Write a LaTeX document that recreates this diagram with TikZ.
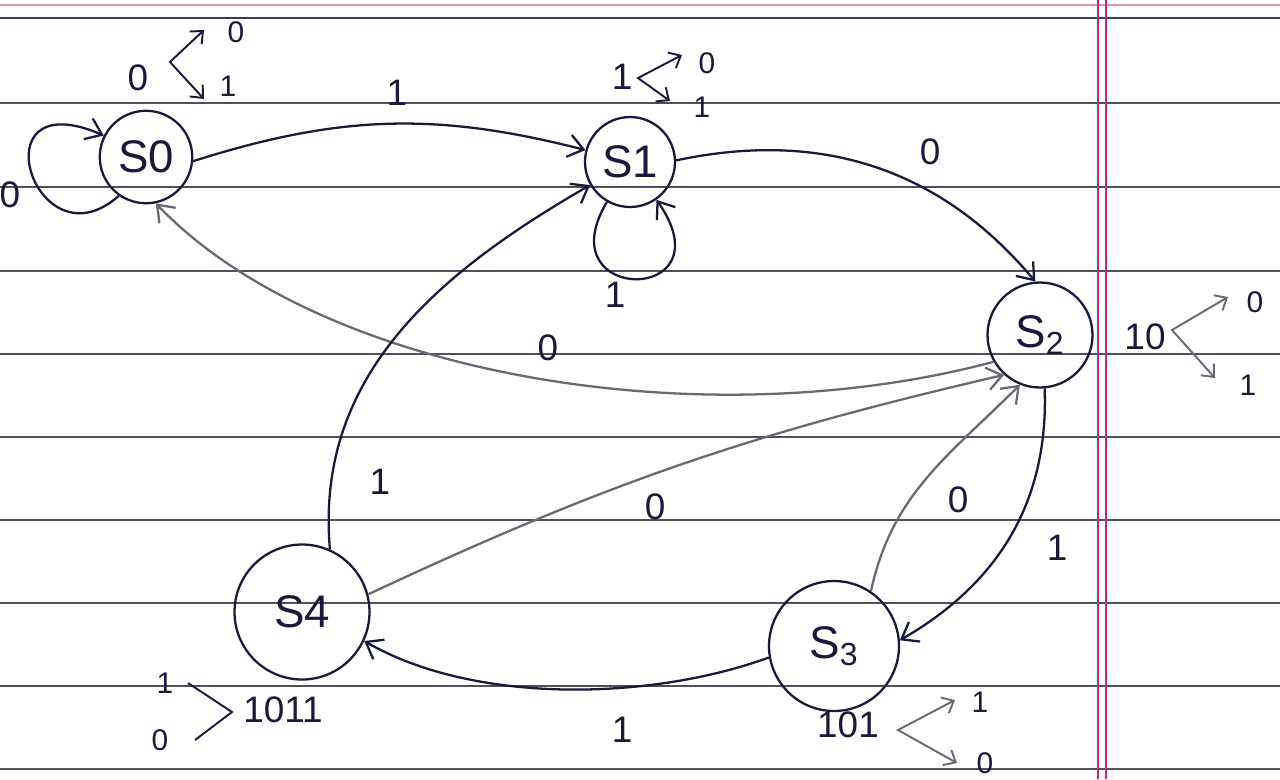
\documentclass[tikz,border=0pt]{standalone}
\usepackage{fontspec}
\setmainfont{Liberation Sans}
\usetikzlibrary{arrows.meta}
\definecolor{ink}{RGB}{25,25,60}
\definecolor{pencil}{RGB}{105,105,115}
\definecolor{rule}{RGB}{80,80,92}
\definecolor{margin}{RGB}{185,45,125}

\begin{document}
\begin{tikzpicture}[x=0.02cm, y=0.02cm, line width=1.3pt,
	state/.style={draw=ink, circle, inner sep=0pt, text=ink, font=\fontsize{26}{30}\selectfont},
	lbl/.style={text=ink, inner sep=0pt, font=\fontsize{21}{25}\selectfont},
	note/.style={text=ink, inner sep=0pt, font=\fontsize{17}{20}\selectfont},
	trans/.style={draw=ink, -{Straight Barb[length=3mm, width=4.5mm]}},
	fork/.style={draw=ink, line width=1.1pt, {Straight Barb[length=2mm, width=3.5mm]}-{Straight Barb[length=2mm, width=3.5mm]}}]
	
	\useasboundingbox (0,0) rectangle (1280,-779);
	\fill[white] (0,0) rectangle (1280,-779);
	
	% Ruled paper
	\draw[margin!50, line width=0.6pt] (0,-5) -- (1280,-5);
	\draw[ink!85, line width=1.5pt] (0,-18) -- (1280,-18);
	\foreach \y in {103,187,271,354,437,520,603,686,769} {
		\draw[rule, line width=1pt] (0,-\y) -- (1280,-\y);
	}
	\draw[margin, line width=0.9pt] (1098,0) -- (1098,-779);
	\draw[margin, line width=0.9pt] (1106,0) -- (1106,-779);
	
	% States
	\node[state, minimum size=1.85cm] (s0) at (146,-157) {S0};
	\node[state, minimum size=1.8cm] (s1) at (630,-162) {S1};
	\node[state, minimum size=2.1cm] (s2) at (1040,-335) {S\textsubscript{2}};
	\node[state, minimum size=2.6cm] (s3) at (834,-646) {S\textsubscript{3}};
	\node[state, minimum size=2.7cm] (s4) at (302,-612) {S4};
	
	% Transitions
	\draw[trans] (s0.235) .. controls (35,-270) and (-25,-80) .. (s0.153);
	\draw[trans] (s0.-5) to[bend left=16] (s1.165);
	\draw[trans] (s1.240) .. controls (545,-305) and (730,-305) .. (s1.305);
	\draw[trans] (s1.2) to[out=12, in=130] (s2.95);
	\draw[trans, draw=pencil] (s2.210) .. controls (700,-440) and (320,-375) .. (s0.282);
	\draw[trans] (s2.-85) to[out=-88, in=30] (s3.5);
	\draw[trans, draw=pencil] (s3.56) to[out=78, in=225] (s2.248);
	\draw[trans] (s3.190) to[out=200, in=-30, looseness=0.8] (s4.-25);
	\draw[trans] (s4.66) to[out=95, in=210] (s1.210);
	\draw[trans, draw=pencil] (s4.15) to[bend left=6] (s2.228);
	
	% Transition labels
	\node[lbl] (l00) at (10,-195) {0};
	\node[lbl] (l01) at (397,-93) {1};
	\node[lbl] (l11) at (615,-295) {1};
	\node[lbl] (l12) at (930,-152) {0};
	\node[lbl] (l20) at (548,-348) {0};
	\node[lbl] (l41) at (380,-482) {1};
	\node[lbl] (l42) at (655,-507) {0};
	\node[lbl] (l32) at (958,-500) {0};
	\node[lbl] (l23) at (1057,-548) {1};
	\node[lbl] (l34) at (622,-730) {1};
	
	% Input forks
	\node[lbl] (h0) at (138,-78) {0};
	\coordinate (v0) at (170,-62);
	\coordinate (a0) at (204,-30);
	\coordinate (b0) at (204,-99);
	\draw[fork] (a0) -- (v0) -- (b0);
	\node[note] (h0a) at (236,-32) {0};
	\node[note] (h0b) at (228,-86) {1};
	
	\node[lbl] (h1) at (622,-77) {1};
	\coordinate (v1) at (638,-78);
	\coordinate (a1) at (682,-55);
	\coordinate (b1) at (670,-101);
	\draw[fork] (a1) -- (v1) -- (b1);
	\node[note] (h1a) at (707,-63) {0};
	\node[note] (h1b) at (702,-107) {1};
	
	\node[lbl] (h2) at (1145,-337) {10};
	\coordinate (v2) at (1172,-330);
	\coordinate (a2) at (1228,-297);
	\coordinate (b2) at (1215,-378);
	\draw[fork, draw=pencil] (a2) -- (v2) -- (b2);
	\node[note] (h2a) at (1255,-302) {0};
	\node[note] (h2b) at (1248,-385) {1};
	
	\node[lbl] (h3) at (848,-725) {101};
	\coordinate (v3) at (898,-730);
	\coordinate (a3) at (955,-700);
	\coordinate (b3) at (957,-763);
	\draw[fork, draw=pencil] (a3) -- (v3) -- (b3);
	\node[note] (h3a) at (980,-702) {1};
	\node[note] (h3b) at (985,-763) {0};
	
	\node[lbl] (h4) at (283,-710) {1011};
	\coordinate (v4) at (232,-712);
	\draw[ink, line width=1.1pt] (188,-683) -- (v4) -- (195,-740);
	\node[note] (h4a) at (165,-683) {1};
	\node[note] (h4b) at (160,-740) {0};
	
\end{tikzpicture}
\end{document}
